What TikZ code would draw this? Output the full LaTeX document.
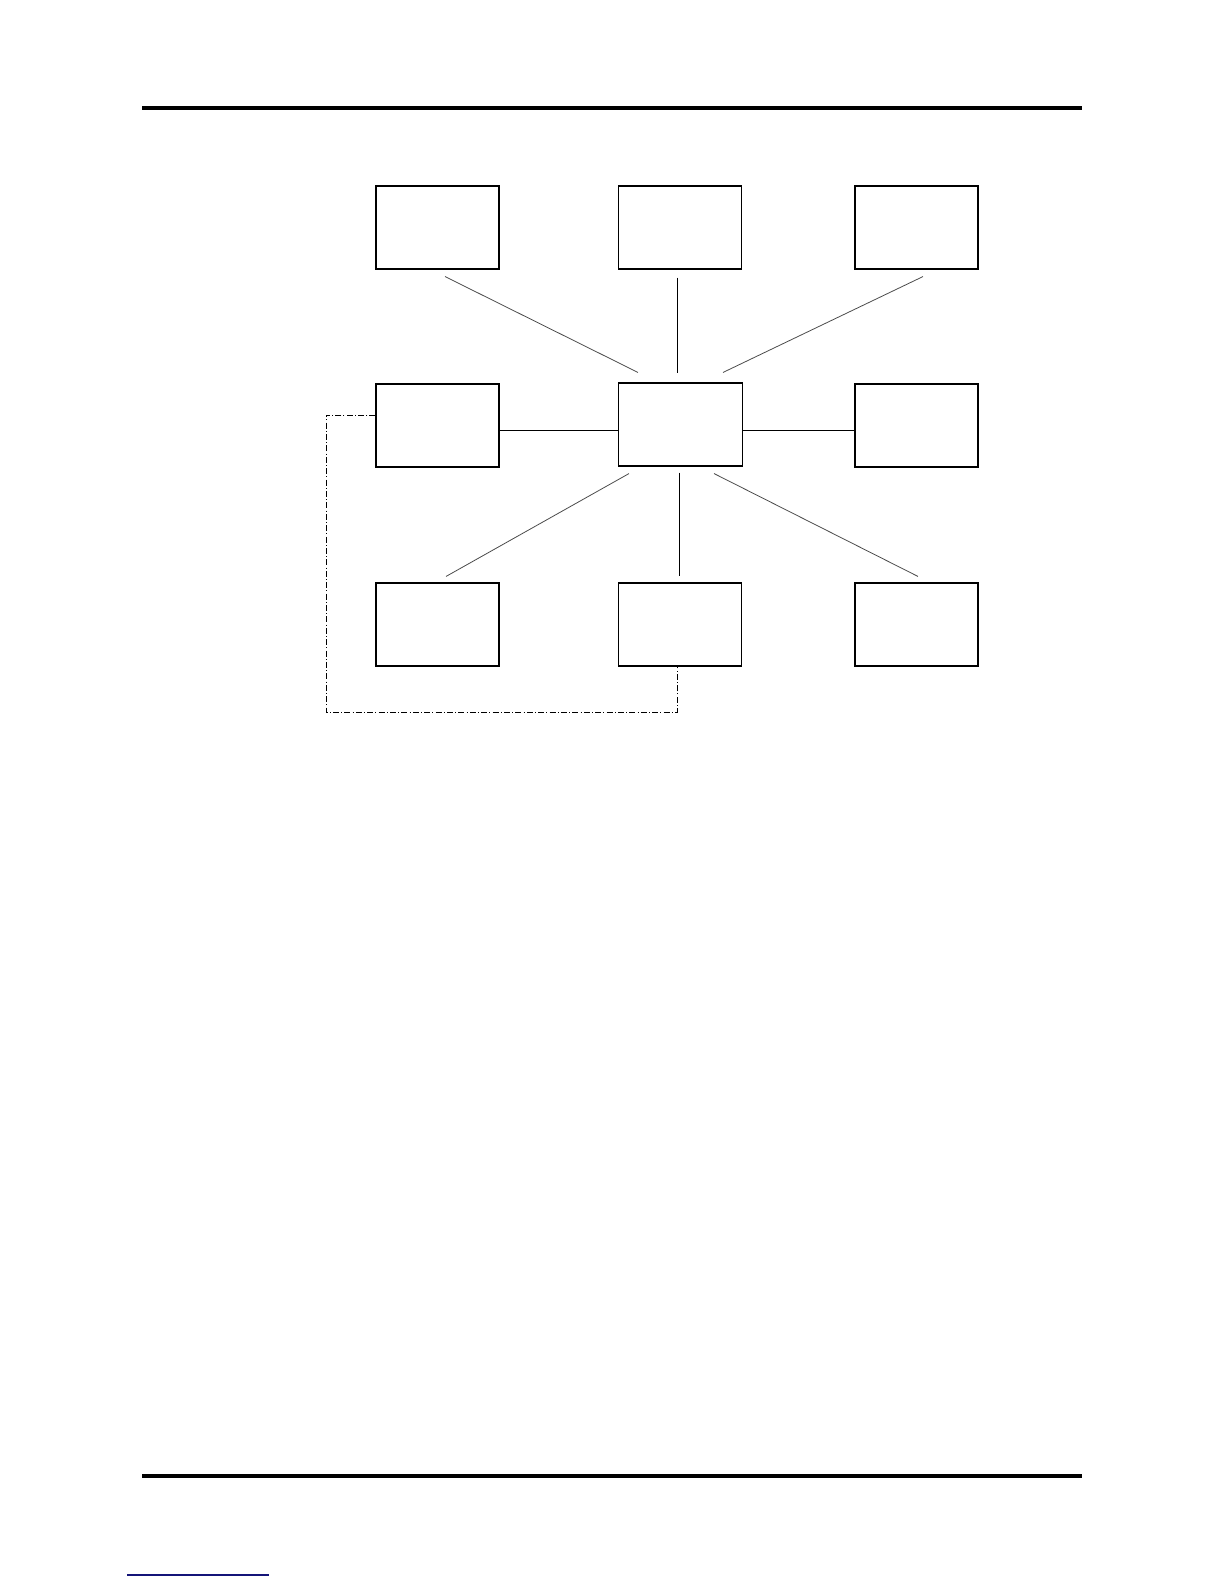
\documentclass[tikz,border=0pt]{standalone}
\usetikzlibrary{calc}
\begin{document}
\begin{tikzpicture}[x=0.5pt,y=-0.5pt,
  blk/.style={draw=black,line width=0.55pt,minimum width=61.5pt,minimum height=41.5pt,inner sep=0pt,fill=white},
  diag/.style={draw=black!70,line width=0.4pt},
  straight/.style={draw=black,line width=0.45pt},
  dashdot/.style={draw=black,line width=0.5pt,dash pattern=on 3pt off 1.1pt on 0.5pt off 1.1pt},
  rule/.style={draw=black,line width=2.1pt}]
\useasboundingbox (0,0) rectangle (1224,1584);
\fill[white] (0,0) rectangle (1224,1584);
% page rules
\coordinate (rt1) at (142,108);
\coordinate (rt2) at (1082,108);
\coordinate (rb1) at (142,1476);
\coordinate (rb2) at (1082,1476);
\draw[rule] (rt1) -- (rt2);
\draw[rule] (rb1) -- (rb2);
\coordinate (ul1) at (127,1575);
\coordinate (ul2) at (269,1575);
\draw[draw={rgb,255:red,20;green,20;blue,120},line width=0.6pt] (ul1) -- (ul2);
% boxes
\node[blk] (tl) at (437.5,227.5) {};
\node[blk] (tc) at (680,227.5) {};
\node[blk] (tr) at (916.5,227.5) {};
\node[blk] (ml) at (437.5,425.5) {};
\node[blk,minimum width=62pt] (c) at (680.5,424.5) {};
\node[blk] (mr) at (916.5,425.5) {};
\node[blk] (bl) at (437.5,624.5) {};
\node[blk] (bc) at (680,624.5) {};
\node[blk] (br) at (916.5,624.5) {};
% connectors
\draw[diag] ($(tl.south)+(7.5,7)$) -- ($(c.north)+(-42.5,-10)$);
\draw[straight] ($(tc.south)+(-3,8)$) -- ($(c.north)+(-3.5,-9)$);
\draw[diag] ($(tr.south)+(6.5,7)$) -- ($(c.north)+(42.5,-10)$);
\draw[straight] ($(ml.east)+(0,4.5)$) -- ($(c.west)+(0,5.5)$);
\draw[straight] ($(c.east)+(0,5.5)$) -- ($(mr.west)+(0,4.5)$);
\draw[diag] ($(c.south)+(-51.5,7)$) -- ($(bl.north)+(8.5,-6)$);
\draw[straight] ($(c.south)+(-1.5,6)$) -- ($(bc.north)+(-1,-6)$);
\draw[diag] ($(c.south)+(33.5,7)$) -- ($(br.north)+(1.5,-6)$);
% dash-dot link
\coordinate (dl) at (326,712);
\draw[dashdot] ($(ml.west)+(0,-10.5)$) -| (dl) -| ($(bc.south)+(-3,0)$);
\end{tikzpicture}
\end{document}
